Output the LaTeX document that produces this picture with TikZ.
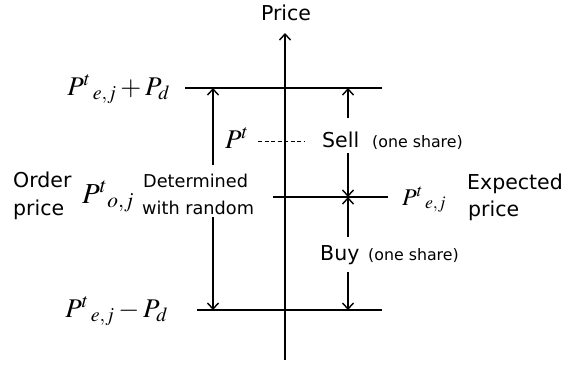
\documentclass[tikz,border=0pt]{standalone}
\usepackage{mathptmx}
\usepackage[no-math]{fontspec}
\setmainfont{DejaVu Sans}
\usetikzlibrary{arrows.meta}
\tikzset{
  plain/.style={line width=1.4pt},
  arr/.style={line width=1.4pt,-{Straight Barb[length=6pt,width=11pt,line width=1.4pt]}},
  bigtxt/.style={font=\fontsize{20.5}{28}\selectfont,inner sep=0pt},
  midtxt/.style={font=\fontsize{17.7}{27}\selectfont,inner sep=0pt},
  smalltxt/.style={font=\fontsize{15.8}{19}\selectfont,inner sep=0pt},
  mth/.style={inner sep=0pt,font=\fontsize{#1}{#1}\selectfont},
  dashline/.style={line width=1pt,dash pattern=on 4pt off 2.5pt},
}
\begin{document}
\begin{tikzpicture}[x=1pt,y=-1pt]
\useasboundingbox (0,0) rectangle (580,368);
% axis
\coordinate (axb) at (285,360);
\coordinate (axt) at (285,33);
\draw[arr] (axb) -- (axt);
\node[bigtxt,anchor=base] (price) at (286,20) {Price};
% horizontal levels
\coordinate (l1a) at (185,88);  \coordinate (l1b) at (382,88);
\coordinate (l2a) at (273,197); \coordinate (l2b) at (388,197);
\coordinate (l3a) at (197,310); \coordinate (l3b) at (382,310);
\draw[plain] (l1a) -- (l1b);
\draw[plain] (l2a) -- (l2b);
\draw[plain] (l3a) -- (l3b);
% left arrows
\coordinate (la1) at (213,165); \coordinate (lt1) at (213,88);
\coordinate (la2) at (213,217); \coordinate (lt2) at (213,310);
\draw[arr] (la1) -- (lt1);
\draw[arr] (la2) -- (lt2);
% right arrows
\coordinate (ra1) at (348,118); \coordinate (rt1) at (348,88);
\coordinate (ra2) at (348,153); \coordinate (rt2) at (348,197);
\coordinate (ra3) at (348,237); \coordinate (rt3) at (348,197);
\coordinate (ra4) at (348,272); \coordinate (rt4) at (348,310);
\draw[arr] (ra1) -- (rt1);
\draw[arr] (ra2) -- (rt2);
\draw[arr] (ra3) -- (rt3);
\draw[arr] (ra4) -- (rt4);
% math labels
\node[mth=27,anchor=base east] (top) at (170,95) {$P^{t}{}_{\,e,j}+P_{d}$};
\node[mth=27,anchor=base east] (bot) at (168,317) {$P^{t}{}_{\,e,j}-P_{d}$};
\node[mth=27,anchor=base west] (pt) at (225,148) {$P^{t}$};
\node[mth=29,anchor=base west] (po) at (82,203) {$P^{t}{}_{o,j}$};
\node[mth=24,anchor=base west] (pe) at (402,205) {$P^{t}{}_{\,e,j}$};
% dashed
\coordinate (da) at (258,141); \coordinate (db) at (305,141);
\draw[dashline] (da) -- (db);
% texts
\node[bigtxt,anchor=base west] (sell) at (322,147) {Sell};
\node[smalltxt,anchor=base west] (sells) at (372,147) {(one share)};
\node[bigtxt,anchor=base west] (buy) at (320,260) {Buy};
\node[smalltxt,anchor=base west] (buys) at (368,260) {(one share)};
\node[bigtxt,anchor=base west] (ord1) at (13,187) {Order};
\node[bigtxt,anchor=base west] (ord2) at (13,215) {price};
\node[midtxt,anchor=base west] (det1) at (143,187) {Determined};
\node[midtxt,anchor=base west] (det2) at (142,214) {with random};
\node[bigtxt,anchor=base west] (exp1) at (467,189) {Expected};
\node[bigtxt,anchor=base west] (exp2) at (468,216) {price};
\end{tikzpicture}
\end{document}
